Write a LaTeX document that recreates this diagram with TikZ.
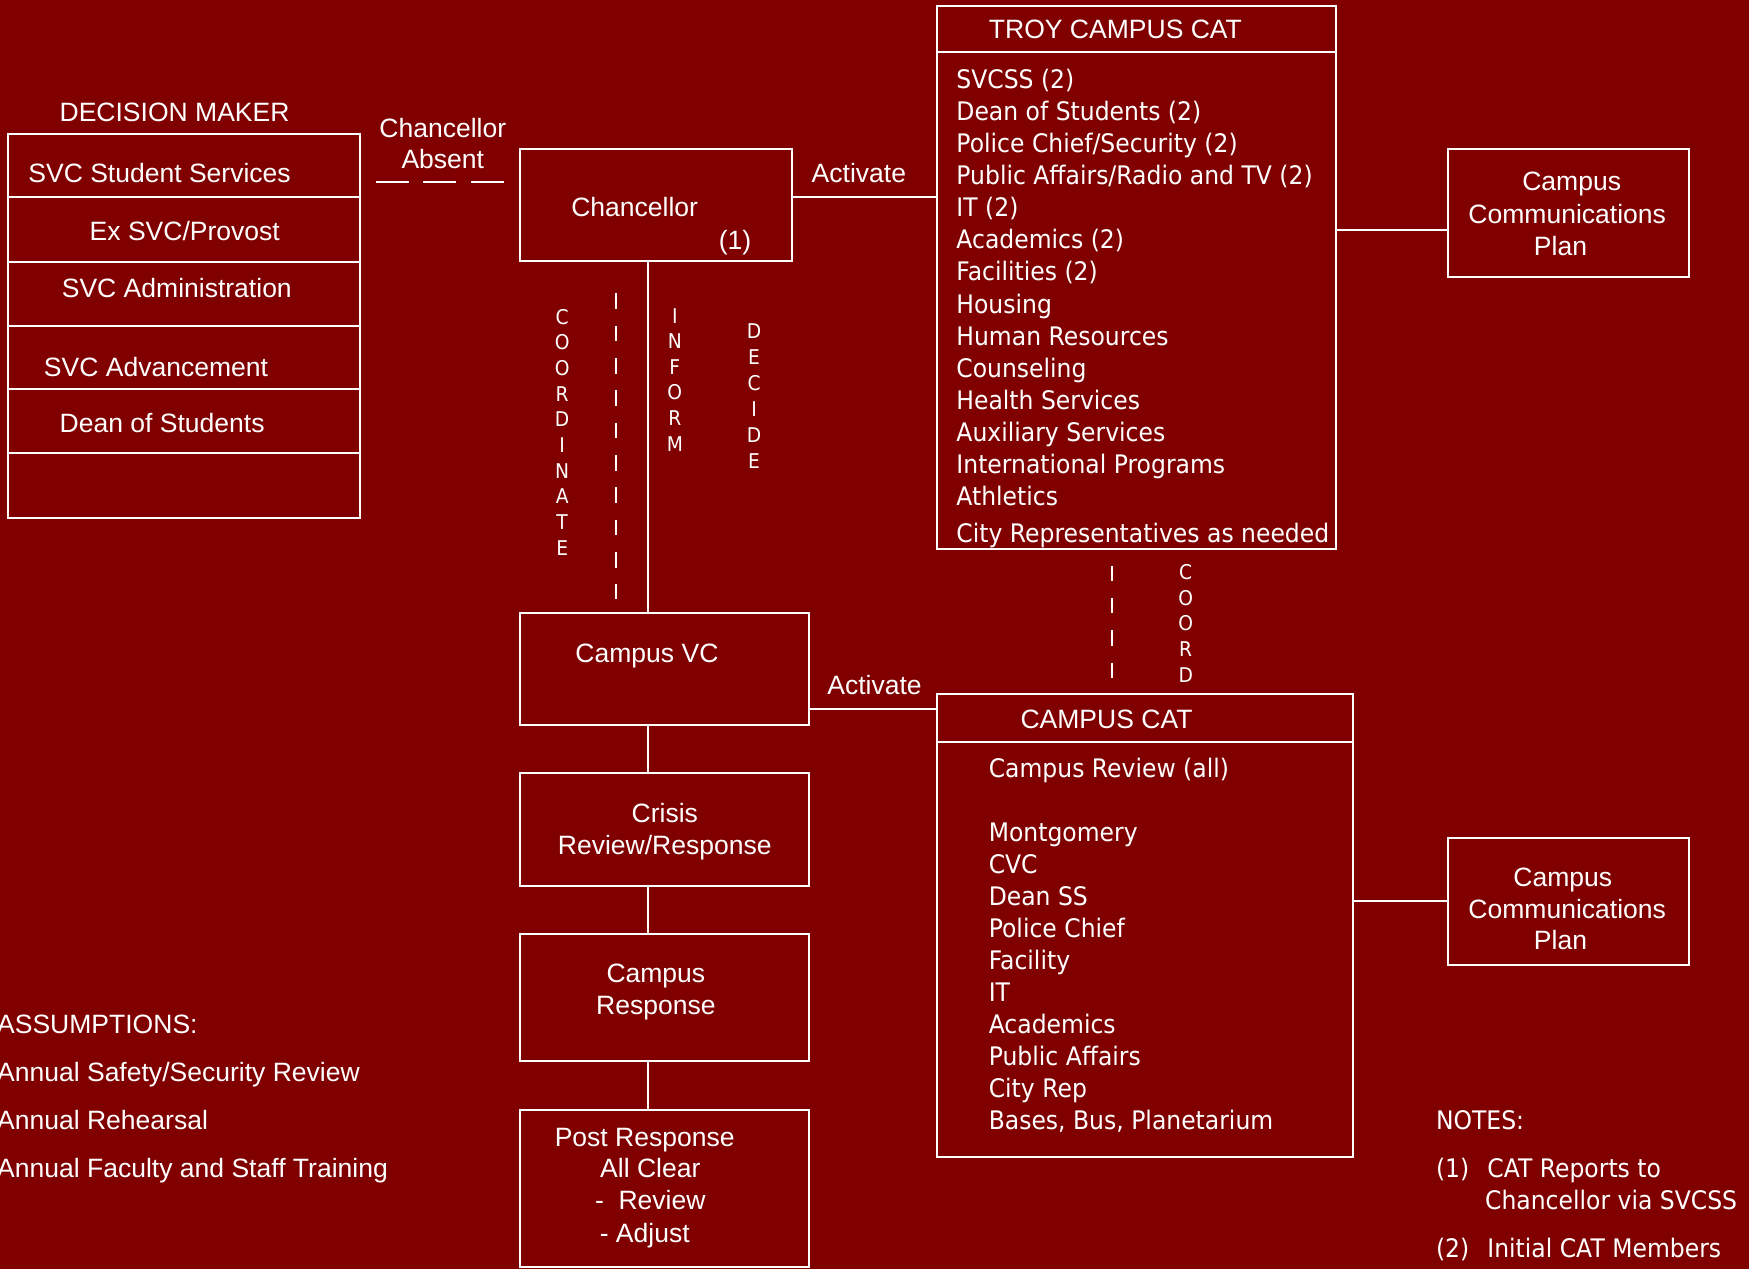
\documentclass[tikz,border=0pt]{standalone}
\usepackage{fontspec}
\setmainfont{Liberation Sans}
\newfontfamily\tah[FakeStretch=0.92]{DejaVu Sans}
\usetikzlibrary{fit}
\definecolor{bgred}{RGB}{128,0,0}
\begin{document}
\begin{tikzpicture}[x=0.45pt,y=-0.45pt,
  box/.style={draw=white,line width=0.8pt,inner sep=0pt},
  lnk/.style={draw=white,line width=0.8pt},
  sepv/.style={draw=white,line width=0.8pt,dash pattern=on 6.3pt off 6.75pt},
  seph/.style={draw=white,line width=0.8pt,dash pattern=on 13.3pt off 5.9pt},
  ar/.style={text=white,font=\fontsize{10.7}{12.8}\selectfont,inner sep=0pt},
  th/.style={text=white,font=\tah\fontsize{10.3}{12.9}\selectfont,inner sep=0pt},
  thv/.style={text=white,font=\tah\fontsize{8.2}{10}\selectfont,inner sep=0pt,anchor=base},
]
\fill[bgred] (0,0) rectangle (1568,1138);
\useasboundingbox (0,0) rectangle (1568,1138);

% ---------- Decision maker ----------
\node[ar,anchor=base west] (dmtitle) at (53,108.5) {DECISION MAKER};
\node[box,fit={(7,120)(323,464)}] (dm) {};
\foreach \yy in {177,235,292,349,406}{
  \draw[lnk] (dm.west |- 0,\yy) -- (dm.east |- 0,\yy);
}
\node[ar,anchor=base west] (dm1) at (25,163.5) {SVC Student Services};
\node[ar,anchor=base west] (dm2) at (80,215.5) {Ex SVC/Provost};
\node[ar,anchor=base west] (dm3) at (55,266.5) {SVC Administration};
\node[ar,anchor=base west] (dm4) at (39,337.5) {SVC Advancement};
\node[ar,anchor=base west] (dm5) at (53,387.5) {Dean of Students};

% ---------- Chancellor absent ----------
\node[ar,anchor=base] (ca1) at (397,123.5) {Chancellor};
\node[ar,anchor=base] (ca2) at (397,151.5) {Absent};
\coordinate (cadL) at (337,163);
\coordinate (cadR) at (453,163);
\draw[seph] (cadL) -- (cadR);

% ---------- Boxes ----------
\node[box,fit={(466,134)(710,234)}] (chan) {};
\node[ar,anchor=base] (chant) at (569,194.5) {Chancellor};
\node[ar,anchor=base] (chann) at (659,223.5) {(1)};

\node[box,fit={(840,5)(1198,492)}] (troy) {};
\draw[lnk] (troy.west |- 0,47) -- (troy.east |- 0,47);
\node[ar,anchor=base] (troyt) at (1000,34.5) {TROY CAMPUS CAT};
\foreach \t [count=\i] in {SVCSS (2),Dean of Students (2),Police Chief/Security (2),Public Affairs/Radio and TV (2),IT (2),Academics (2),Facilities (2),Housing,Human Resources,Counseling,Health Services,Auxiliary Services,International Programs,Athletics}{
  \node[th,anchor=base west] (troyl\i) at (857,{79.3+28.77*(\i-1)}) {\t};
}
\node[th,anchor=base west] (troyl15) at (857,486.3) {City Representatives as needed};

\node[box,fit={(1298,134)(1514,248)}] (planA) {};
\node[ar,anchor=base] (planA1) at (1409,170.5) {Campus};
\node[ar,anchor=base] (planA2) at (1405,200.5) {Communications};
\node[ar,anchor=base] (planA3) at (1399,229.5) {Plan};

\node[box,fit={(466,550)(725,650)}] (vc) {};
\node[ar,anchor=base] (vct) at (580,593.5) {Campus VC};

\node[box,fit={(840,622)(1213,1037)}] (ccat) {};
\draw[lnk] (ccat.west |- 0,665) -- (ccat.east |- 0,665);
\node[ar,anchor=base] (ccatt) at (992,653.5) {CAMPUS CAT};
\node[th,anchor=base west] (ccl0) at (886,697.3) {Campus Review (all)};
\foreach \t [count=\i] in {Montgomery,CVC,Dean SS,Police Chief,Facility,IT,Academics,Public Affairs,City Rep,{Bases, Bus, Planetarium}}{
  \node[th,anchor=base west] (ccl\i) at (886,{754.3+28.7*(\i-1)}) {\t};
}

\node[box,fit={(1298,751)(1514,865)}] (planB) {};
\node[ar,anchor=base] (planB1) at (1401,794.5) {Campus};
\node[ar,anchor=base] (planB2) at (1405,823.5) {Communications};
\node[ar,anchor=base] (planB3) at (1399,851.5) {Plan};

\node[box,fit={(466,693)(725,794)}] (crisis) {};
\node[ar,anchor=base] (crisis1) at (596,737.5) {Crisis};
\node[ar,anchor=base] (crisis2) at (596,766.5) {Review/Response};

\node[box,fit={(466,837)(725,951)}] (cresp) {};
\node[ar,anchor=base] (cresp1) at (588,880.5) {Campus};
\node[ar,anchor=base] (cresp2) at (588,909.5) {Response};

\node[box,fit={(466,995)(725,1136)}] (post) {};
\node[ar,anchor=base] (post1) at (578,1027.5) {Post Response};
\node[ar,anchor=base] (post2) at (583,1055.5) {All Clear};
\node[ar,anchor=base] (post3) at (583,1084.5) {-\ \ Review};
\node[ar,anchor=base] (post4) at (578,1113.5) {- Adjust};

% ---------- Connectors ----------
\coordinate (spine) at (581,0);
\draw[lnk] (chan.south -| spine) -- (vc.north -| spine);
\draw[lnk] (vc.south -| spine) -- (crisis.north -| spine);
\draw[lnk] (crisis.south -| spine) -- (cresp.north -| spine);
\draw[lnk] (cresp.south -| spine) -- (post.north -| spine);

\draw[lnk] (chan.east |- 0,177) -- (troy.west |- 0,177);
\node[ar,anchor=base] (act1) at (770,163.5) {Activate};
\draw[lnk] (troy.east |- 0,206) -- (planA.west |- 0,206);
\draw[lnk] (vc.east |- 0,636) -- (ccat.west |- 0,636);
\node[ar,anchor=base] (act2) at (784,622.5) {Activate};
\draw[lnk] (ccat.east |- 0,808) -- (planB.west |- 0,808);

% ---------- Dashed separators and vertical words ----------
\coordinate (dvT) at (552,263);
\coordinate (dvB) at (552,537);
\draw[sepv] (dvT) -- (dvB);
\coordinate (dcT) at (997,507);
\coordinate (dcB) at (997,608);
\draw[sepv] (dcT) -- (dcB);

\foreach \l [count=\i] in {C,O,O,R,D,I,N,A,T,E}{
  \node[thv] (co\i) at (504,{290.6+23*(\i-1)}) {\l};
}
\foreach \l [count=\i] in {I,N,F,O,R,M}{
  \node[thv] (in\i) at (605,{289.6+23*(\i-1)}) {\l};
}
\foreach \l [count=\i] in {D,E,C,I,D,E}{
  \node[thv] (de\i) at (676,{303.6+23.2*(\i-1)}) {\l};
}
\foreach \l [count=\i] in {C,O,O,R,D}{
  \node[thv] (cd\i) at (1063,{519.6+23*(\i-1)}) {\l};
}

% ---------- Assumptions ----------
\node[ar,anchor=base west] (as0) at (-3,926.5) {ASSUMPTIONS:};
\node[ar,anchor=base west] (as1) at (-3,969.5) {Annual Safety/Security Review};
\node[ar,anchor=base west] (as2) at (-3,1012.5) {Annual Rehearsal};
\node[ar,anchor=base west] (as3) at (-3,1055.5) {Annual Faculty and Staff Training};

% ---------- Notes ----------
\node[th,anchor=base west] (nt0) at (1287,1012.3) {NOTES:};
\node[th,anchor=base west] (nt1a) at (1287,1055.3) {(1)};
\node[th,anchor=base west] (nt1b) at (1333,1055.3) {CAT Reports to};
\node[th,anchor=base west] (nt1c) at (1331,1084.3) {Chancellor via SVCSS};
\node[th,anchor=base west] (nt2a) at (1287,1127.3) {(2)};
\node[th,anchor=base west] (nt2b) at (1333,1127.3) {Initial CAT Members};
\end{tikzpicture}
\end{document}
